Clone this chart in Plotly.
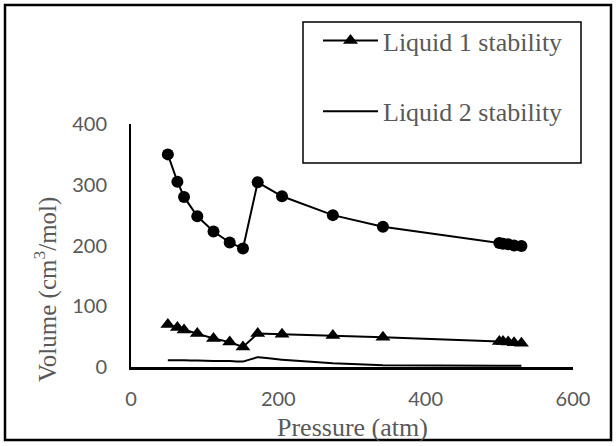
import plotly.graph_objects as go

pressure = [50, 63, 72, 90, 112, 134, 152, 172, 205, 274, 342, 500, 505, 512, 520, 530]
circle_volume = [350, 305, 280, 248, 223, 205, 195, 304, 281, 250, 231, 204, 203, 202, 200, 199]
liquid1_volume = [70, 65, 61, 55, 47, 41, 33, 55, 54, 52, 49, 42, 42, 41, 40, 39]
liquid2_volume = [11, 11, 11, 10.5, 10, 10, 9, 16, 12, 6, 3, 2, 2, 2, 2, 2]

x_ticks = [0, 200, 400, 600]
y_ticks = [0, 100, 200, 300, 400]

W, H = 616, 446
L, R, T, B = 131, 43, 124, 79
PW, PH = W - L - R, H - T - B

def px(x):
    return (x - L) / PW

def py(y):
    return (H - B - y) / PH

GRAY = "#595959"
SERIF = "Liberation Serif, Times New Roman, serif"
SANS = "Lato, Open Sans, sans-serif"

fig = go.Figure()
fig.add_trace(go.Scatter(
    x=pressure, y=circle_volume, mode="lines+markers", name="Vapor stability",
    line=dict(color="black", width=2), marker=dict(symbol="circle", size=12, color="black"),
    showlegend=False, legendgroup="c"))
fig.add_trace(go.Scatter(
    x=pressure, y=liquid1_volume, mode="lines+markers", name="Liquid 1 stability",
    line=dict(color="black", width=2), marker=dict(symbol="triangle-up", size=13, color="black"),
    legendgroup="a"))
fig.add_trace(go.Scatter(
    x=pressure, y=liquid2_volume, mode="lines", name="Liquid 2 stability",
    line=dict(color="black", width=2, shape="spline", smoothing=0.4),
    legendgroup="b"))

fig.update_layout(
    width=W, height=H,
    margin=dict(l=L, r=R, t=T, b=B),
    paper_bgcolor="white", plot_bgcolor="white",
    showlegend=True,
    legend=dict(x=px(318), y=py(17), xanchor="left", yanchor="top",
                bgcolor="rgba(0,0,0,0)", borderwidth=0,
                font=dict(family=SERIF, size=26, color=GRAY),
                tracegroupgap=34, itemwidth=55, traceorder="grouped"),
    xaxis=dict(range=[0, 600], tickvals=x_ticks, showgrid=False, zeroline=False,
               showline=True, linecolor="black", linewidth=2.5,
               ticks="outside", ticklen=12, tickcolor="rgba(0,0,0,0)",
               tickfont=dict(family=SANS, size=20, color=GRAY)),
    yaxis=dict(range=[0, 400], tickvals=y_ticks, showgrid=False, zeroline=False,
               showline=True, linecolor="black", linewidth=2,
               ticks="outside", ticklen=18, tickcolor="rgba(0,0,0,0)",
               tickfont=dict(family=SANS, size=20, color=GRAY)),
    shapes=[
        dict(type="rect", xref="paper", yref="paper", x0=px(5), x1=px(611), y0=py(440), y1=py(5),
             line=dict(color="black", width=2.5), fillcolor="rgba(0,0,0,0)", layer="below"),
        dict(type="rect", xref="paper", yref="paper", x0=px(303), x1=px(581), y0=py(163), y1=py(22),
             line=dict(color="black", width=1.5), fillcolor="rgba(0,0,0,0)", layer="below"),
    ],
    annotations=[
        dict(text="Volume (cm<sup>3</sup>/mol)", xref="paper", yref="paper", x=px(45), y=py(290),
             xanchor="center", yanchor="middle", textangle=-90, showarrow=False,
             font=dict(family=SERIF, size=25, color=GRAY)),
        dict(text="Pressure (atm)", xref="paper", yref="paper", x=px(352), y=py(427),
             xanchor="center", yanchor="middle", showarrow=False,
             font=dict(family=SERIF, size=26, color=GRAY)),
    ],
)

fig.write_html("out.html", config={"displayModeBar": False},
               post_script="document.body.style.margin='0';document.body.style.overflow='hidden';")
